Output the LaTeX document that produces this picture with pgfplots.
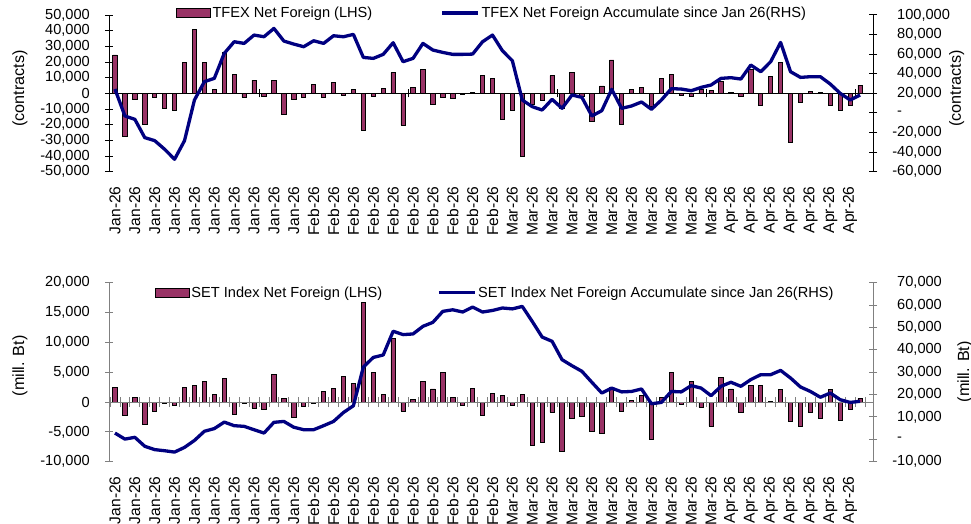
\documentclass[border=0pt]{standalone}
\usepackage{pgfplots}
\pgfplotsset{compat=1.18}
\usepackage{pgfplotstable}
\usepackage{fontspec}
\setmainfont{Liberation Sans}
\definecolor{barcol}{RGB}{153,51,102}
\definecolor{navy}{RGB}{0,0,128}
\newcommand{\tfont}{\fontsize{14.6}{17}\selectfont}
\newcommand{\xfont}{\fontsize{15.6}{18}\selectfont}
\newcommand{\lfont}{\fontsize{16.2}{19}\selectfont}

\pgfplotstableread{
x bar cum
0 24500 24400
1 -27700 -3100
2 -3800 -6500
3 -20000 -25200
4 -2500 -28300
5 -9400 -37100
6 -10600 -47300
7 19800 -28300
8 40900 13200
9 19600 31900
10 2600 35300
11 26000 60800
12 12300 72700
13 -2500 71000
14 8500 79500
15 -1700 77800
16 8500 86300
17 -13200 73400
18 -3800 70300
19 -2800 67600
20 5700 73700
21 -2500 71000
22 7200 78800
23 -1500 77800
24 2600 80200
25 -23400 56700
26 -1700 55700
27 3200 59800
28 13200 71700
29 -20200 52300
30 3800 55700
31 15300 71000
32 -6800 64200
33 -2500 61800
34 -3000 59800
35 -600 59800
36 800 60100
37 11700 72700
38 9600 79500
39 -16600 63500
40 -11100 53300
41 -40000 13200
42 -6800 6400
43 -4300 3000
44 11300 13900
45 -9600 4700
46 13200 18300
47 -2100 15900
48 -18100 -3100
49 4700 2300
50 21300 24100
51 -19600 4700
52 2600 7100
53 3800 11200
54 -8100 3700
55 9600 13200
56 12300 24800
57 -1300 24400
58 -2100 22700
59 2600 26100
60 2100 28500
61 7400 35300
62 800 36000
63 -2100 34600
64 15500 48900
65 -7700 42100
66 10600 52300
67 20000 72000
68 -31500 42100
69 -5700 36300
70 1000 37000
71 800 37000
72 -7900 29500
73 -10600 20000
74 -7400 13200
75 5300 18300
}\topdata

\pgfplotstableread{
x bar cum
0 2500 2800
1 -2200 100
2 700 900
3 -3800 -3100
4 -1600 -4600
5 -300 -5100
6 -600 -5700
7 2500 -3600
8 2800 -500
9 3500 3600
10 1200 4800
11 3900 7700
12 -2100 6100
13 -200 5800
14 -1000 4300
15 -1300 2800
16 4600 7600
17 600 8000
18 -2500 5400
19 -800 4300
20 -300 4300
21 1700 6100
22 2300 8000
23 4300 12000
24 3100 15000
25 16700 32300
26 5000 36600
27 1200 37700
28 10600 48300
29 -1500 46800
30 400 47100
31 3500 50500
32 2200 52300
33 5000 57200
34 700 57900
35 -600 56900
36 2300 59100
37 -2200 56900
38 1400 57600
39 1100 58700
40 -600 58300
41 1200 59400
42 -7200 52700
43 -6700 45700
44 -1700 43800
45 -8300 35600
46 -2700 32900
47 -2400 30400
48 -4900 25500
49 -5200 20700
50 2500 22900
51 -1600 21200
52 300 21400
53 1100 22500
54 -6300 15900
55 800 16500
56 5000 21400
57 -400 21200
58 3500 24000
59 -900 22900
60 -4000 19500
61 4100 23700
62 2200 25500
63 -1800 23700
64 2800 26700
65 2800 28900
66 100 28900
67 2100 30800
68 -3200 27400
69 -4100 23400
70 -1800 21400
71 -2800 18800
72 2100 20700
73 -3100 17700
74 -1200 16500
75 600 17000
}\botdata

\pgfplotsset{
  common/.style={
    anchor=south west, width=764pt, scale only axis,
    xmin=-0.6, xmax=76.3, clip=false,
    scaled y ticks=false, scaled x ticks=false,
    major tick length=8pt, tick align=center,
    legend style={draw=none, fill=none, inner sep=0pt, outer sep=0pt, font=\tfont, nodes={inner sep=1.5pt}},
    ylabel style={font=\lfont, anchor=center},
  },
  leftax/.style={
    common,
    axis y line*=left, axis x line*=bottom,
    x axis line style={draw=none},
    xtick={0,2,...,74},
    xticklabels={Jan-26,Jan-26,Jan-26,Jan-26,Jan-26,Jan-26,Jan-26,Jan-26,Jan-26,Jan-26,
      Feb-26,Feb-26,Feb-26,Feb-26,Feb-26,Feb-26,Feb-26,Feb-26,Feb-26,Feb-26,
      Mar-26,Mar-26,Mar-26,Mar-26,Mar-26,Mar-26,Mar-26,Mar-26,Mar-26,Mar-26,Mar-26,
      Apr-26,Apr-26,Apr-26,Apr-26,Apr-26,Apr-26,Apr-26},
    xtick style={draw=none},
    xticklabel style={font=\xfont, yshift=-10.5pt, rotate=90, anchor=east, inner sep=0pt},
    yticklabel style={font=\tfont, anchor=east, inner sep=0pt, xshift=-15pt},
  },
  rightax/.style={
    common,
    hide x axis,
    axis y line*=right,
    yticklabel style={font=\tfont, anchor=west, inner sep=0pt, xshift=20pt},
  },
  barleg/.style={legend image code/.code={\draw[fill=barcol,draw=black,line width=1pt] (0pt,-4.5pt) rectangle (34pt,4.5pt);}},
  lineleg/.style={legend image code/.code={\draw[navy,line width=3.3pt] (0pt,0pt) -- (36pt,0pt);}},
}

\begin{document}
\begin{tikzpicture}
\path[use as bounding box] (0,0) rectangle (971pt,523pt);

% ---------- TOP PANEL ----------
\begin{axis}[leftax, at={(109pt,351.3pt)}, height=156.7pt,
  ymin=-50000, ymax=50000,
  y axis line style={-, black, line width=1pt},
  ytick style={black, line width=1pt},
  ytick={-50000,-40000,-30000,-20000,-10000,0,10000,20000,30000,40000,50000},
  yticklabels={{-50,000},{-40,000},{-30,000},{-20,000},{-10,000},{0},{10,000},{20,000},{30,000},{40,000},{50,000}},
  ylabel={(contracts)},
  ylabel style={at={(axis description cs:-0.1165,0.531)}},
  legend style={at={(0.0877,1.0128)}, anchor=west},
]
\addplot[ybar, bar width=4.3pt, bar shift=0pt, fill=barcol, draw=black, line width=0.8pt, barleg] table[x=x, y=bar] {\topdata};
\addlegendentry{TFEX Net Foreign (LHS)}
\draw[black, line width=1pt] (axis cs:-0.6,0) -- (axis cs:76.3,0);
\pgfplotsinvokeforeach{14.5,29.5,44.5,59.5,74.5}{\draw[black,line width=0.8pt] ([yshift=-4pt]axis cs:#1,0) -- ([yshift=4pt]axis cs:#1,0);}
\end{axis}

\begin{axis}[rightax, at={(109pt,351.3pt)}, height=156.7pt,
  ymin=-60000, ymax=100000,
  y axis line style={-, black, line width=1pt},
  ytick style={black, line width=1pt},
  ytick={-60000,-40000,-20000,0,20000,40000,60000,80000,100000},
  yticklabels={{\llap{-}60,000},{\llap{-}40,000},{\llap{-}20,000},{-},{20,000},{40,000},{60,000},{80,000},{100,000}},
  ylabel={(contracts)},
  ylabel style={at={(axis description cs:1.1096,0.531)}},
  legend style={at={(0.4342,1.0128)}, anchor=west},
]
\addplot[navy, line width=3.3pt, line join=round, mark=none, lineleg] table[x=x, y=cum] {\topdata};
\addlegendentry{TFEX Net Foreign Accumulate since Jan 26(RHS)}
\end{axis}

% ---------- BOTTOM PANEL ----------
\begin{axis}[leftax, at={(109pt,61.3pt)}, height=179pt,
  ymin=-10000, ymax=20000,
  y axis line style={-, gray, line width=1pt},
  ytick style={gray, line width=1pt},
  ytick={-10000,-5000,0,5000,10000,15000,20000},
  yticklabels={{-10,000},{-5,000},{0},{5,000},{10,000},{15,000},{20,000}},
  ylabel={(mill. Bt)},
  ylabel style={at={(axis description cs:-0.1165,0.535)}},
  legend style={at={(0.0602,0.944)}, anchor=west},
]
\addplot[ybar, bar width=4.3pt, bar shift=0pt, fill=barcol, draw=black, line width=0.8pt, barleg] table[x=x, y=bar] {\botdata};
\addlegendentry{SET Index Net Foreign (LHS)}
\draw[gray, line width=1pt] (axis cs:-0.6,0) -- (axis cs:76.3,0);
\pgfplotsinvokeforeach{-0.5,0.5,...,75.5}{\draw[gray,line width=0.8pt] ([yshift=-5pt]axis cs:#1,0) -- ([yshift=5pt]axis cs:#1,0);}
\end{axis}

\begin{axis}[rightax, at={(109pt,61.3pt)}, height=179pt,
  ymin=-10000, ymax=70000,
  y axis line style={-, gray, line width=1pt},
  ytick style={gray, line width=1pt},
  ytick={-10000,0,10000,20000,30000,40000,50000,60000,70000},
  yticklabels={{\llap{-}10,000},{-},{10,000},{20,000},{30,000},{40,000},{50,000},{60,000},{70,000}},
  ylabel={(mill. Bt)},
  ylabel style={at={(axis description cs:1.1204,0.503)}},
  legend style={at={(0.4297,0.944)}, anchor=west},
]
\addplot[navy, line width=3.3pt, line join=round, mark=none, lineleg] table[x=x, y=cum] {\botdata};
\addlegendentry{SET Index Net Foreign Accumulate since Jan 26(RHS)}
\end{axis}
\end{tikzpicture}
\end{document}
